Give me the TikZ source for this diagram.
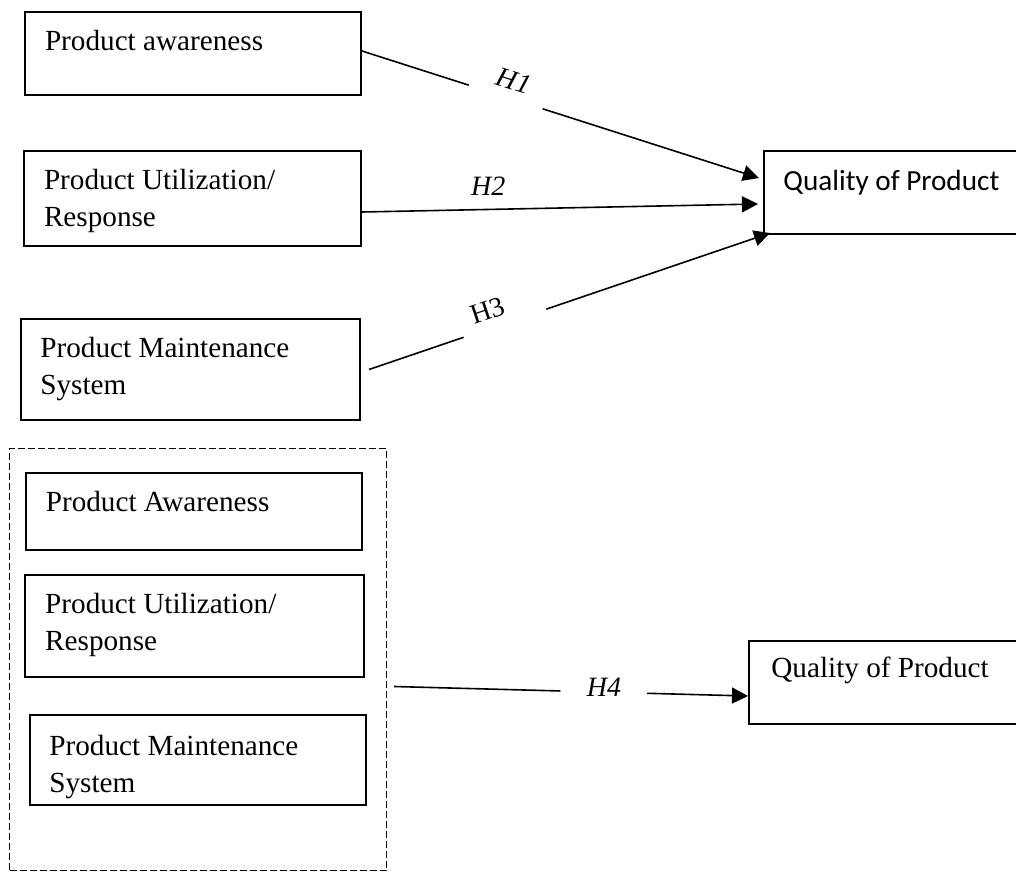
\documentclass[tikz,border=0pt]{standalone}
\usepackage{fontspec}
\setmainfont{Liberation Serif}
\newfontfamily\calibrifont{Carlito}
\usepackage{tikz}
\usetikzlibrary{arrows.meta,positioning}
\newcommand\boxfont{\fontsize{14.6}{18.75}\selectfont}
\newcommand\hypfont{\fontsize{14}{16}\selectfont}
\tikzset{
    %Define standard arrow tip
    >={Triangle[length=8pt,width=8pt]},
    %Define style for boxes
    factor/.style={
           rectangle,
           draw=black, line width=1pt,
           anchor=north west,
           inner sep=0pt},
    boxtext/.style={
           anchor=north west,
           inner sep=0pt,
           align=left,
           font=\boxfont},
    groupbox/.style={
           rectangle,
           draw=black, line width=0.5pt,
           dash pattern=on 3.5pt off 1.5pt,
           anchor=north west,
           inner sep=0pt},
    % Define arrow style
    line/.style={
           line width=0.8pt},
    link/.style={
           ->,
           line width=0.8pt},
    hyp/.style={font=\hypfont}
}
\begin{document}
\begin{tikzpicture}[x=0.5pt,y=-0.5pt]
\useasboundingbox (0,0) rectangle (1016,872);

 %single factors
\node[factor, minimum width=168pt, minimum height=41.5pt] (aware) at (24,11) {};
\node[boxtext, below right=9.6pt and 10.3pt of aware.north west] (aware text) {Product awareness};
\node[factor, minimum width=168.5pt, minimum height=47.5pt] (util) at (23,150) {};
\node[boxtext, below right=9.3pt and 10.3pt of util.north west] (util text) {Product Utilization/\\Response};
\node[factor, minimum width=169.5pt, minimum height=50.5pt] (maint) at (20,318) {};
\node[boxtext, below right=9.3pt and 10pt of maint.north west] (maint text) {Product Maintenance\\System};
\node[factor, minimum width=130.5pt, minimum height=41.5pt] (quality) at (763,150) {};
\node[boxtext, font=\calibrifont\boxfont, below right=10pt and 10pt of quality.north west] (quality text) {Quality of Product};

 %combined factors
\node[groupbox, minimum width=188.5pt, minimum height=211pt] (group) at (9,448) {};
\node[factor, minimum width=168pt, minimum height=38.5pt] (aware2) at (25,472) {};
\node[boxtext, below right=9.5pt and 10.2pt of aware2.north west] (aware2 text) {Product Awareness};
\node[factor, minimum width=169.5pt, minimum height=51pt] (util2) at (24,574) {};
\node[boxtext, below right=9.2pt and 10.4pt of util2.north west] (util2 text) {Product Utilization/\\Response};
\node[factor, minimum width=168pt, minimum height=45pt] (maint2) at (29,714) {};
\node[boxtext, below right=10.2pt and 10pt of maint2.north west] (maint2 text) {Product Maintenance\\System};
\node[factor, minimum width=138pt, minimum height=41.5pt] (quality2) at (748,640) {};
\node[boxtext, below right=8.2pt and 11.5pt of quality2.north west] (quality2 text) {Quality of Product};

 %hypotheses
\path ([yshift=1.25pt]aware.east) -- ([xshift=-2pt,yshift=7.25pt]quality.west)
    coordinate[pos=.269] (h1 a) coordinate[pos=.455] (h1 b)
    node[hyp, sloped, above=1pt, pos=.369] (h1) {\textit{H1}};
\draw[line] ([yshift=1.25pt]aware.east) -- (h1 a);
\draw[link] (h1 b) -- ([xshift=-2pt,yshift=7.25pt]quality.west);

\draw[link] ([yshift=-6.75pt]util.east) -- ([xshift=-2.5pt,yshift=-5.75pt]quality.west)
    node[hyp, above=3pt, pos=.319] (h2) {\textit{H2}};

\path ([xshift=4pt]maint.east) -- ([xshift=3.5pt,yshift=1pt]quality.south west)
    coordinate[pos=.236] (h3 a) coordinate[pos=.442] (h3 b)
    node[hyp, sloped, above=0.5pt, pos=.31] (h3) {H3};
\draw[line] ([xshift=4pt]maint.east) -- (h3 a);
\draw[link] (h3 b) -- ([xshift=3.5pt,yshift=1pt]quality.south west);

\path ([xshift=3.5pt,yshift=-13.5pt]group.east) -- ([yshift=-6.75pt]quality2.west)
    coordinate[pos=.47] (h4 a) coordinate[pos=.715] (h4 b)
    node[hyp, pos=.593, yshift=2.5pt] (h4) {\textit{H4}};
\draw[line] ([xshift=3.5pt,yshift=-13.5pt]group.east) -- (h4 a);
\draw[link] (h4 b) -- ([yshift=-6.75pt]quality2.west);

\end{tikzpicture}
\end{document}
